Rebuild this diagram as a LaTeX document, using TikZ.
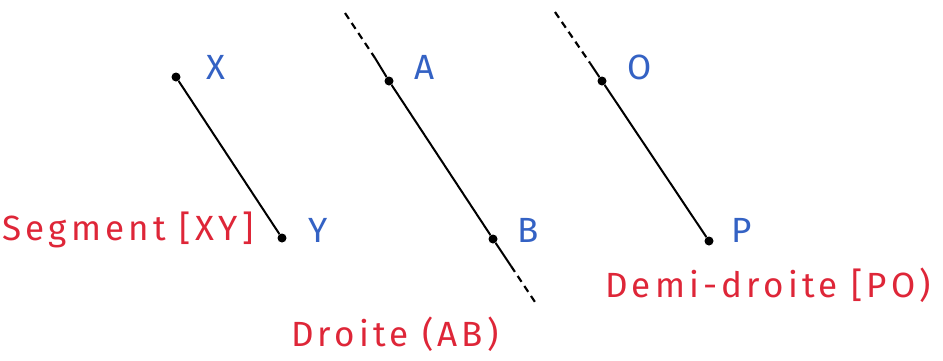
\documentclass[tikz,border=0pt]{standalone}
\usepackage{fontspec}
\setmainfont{Fira Sans}
\definecolor{ptblue}{RGB}{52,98,196}
\definecolor{nmred}{RGB}{222,38,56}

\begin{document}
\begin{tikzpicture}[x=1pt,y=-1pt,
  dot/.style={circle,fill=black,inner sep=0pt,minimum size=9pt},
  ptlabel/.style={text=ptblue,font=\fontsize{35}{35}\selectfont},
  figname/.style={text=nmred,font=\fontsize{35}{35}\selectfont\addfontfeature{LetterSpace=12}},
  solidline/.style={line width=2pt},
  dashline/.style={line width=2.2pt,dash pattern=on 7pt off 5pt}]
\useasboundingbox (0,0) rectangle (943,360);
% segment
\node[dot] (X) at (176,77) {};
\node[dot] (Y) at (282,238) {};
\node[ptlabel] (lX) at (216,67) {X};
\node[ptlabel] (lY) at (318,230) {Y};
\draw[solidline] (X) -- (Y);
\node[figname] (seg) at (128,230) {Segment [XY]};
% line
\coordinate (AB0) at (345,13);
\coordinate (AB1) at (375,58);
\node[dot] (A) at (389,81) {};
\node[dot] (B) at (493,239) {};
\coordinate (AB2) at (511,266);
\coordinate (AB3) at (537,305);
\node[ptlabel] (lA) at (425,67) {A};
\node[ptlabel] (lB) at (528,230) {B};
\draw[dashline] (AB0) -- (AB1);
\draw[solidline] (AB1) -- (A) -- (B) -- (AB2);
\draw[dashline] (AB2) -- (AB3);
\node[figname] (lin) at (395,334) {Droite (AB)};
% ray
\coordinate (OP0) at (555,12);
\coordinate (OP1) at (590,63);
\node[dot] (O) at (602,81) {};
\node[dot] (P) at (709,241) {};
\node[ptlabel] (lO) at (640,67) {O};
\node[ptlabel] (lP) at (742,230) {P};
\draw[dashline] (OP0) -- (OP1);
\draw[solidline] (OP1) -- (O) -- (P);
\node[figname] (ray) at (768,285) {Demi-droite [PO)};
\end{tikzpicture}
\end{document}
